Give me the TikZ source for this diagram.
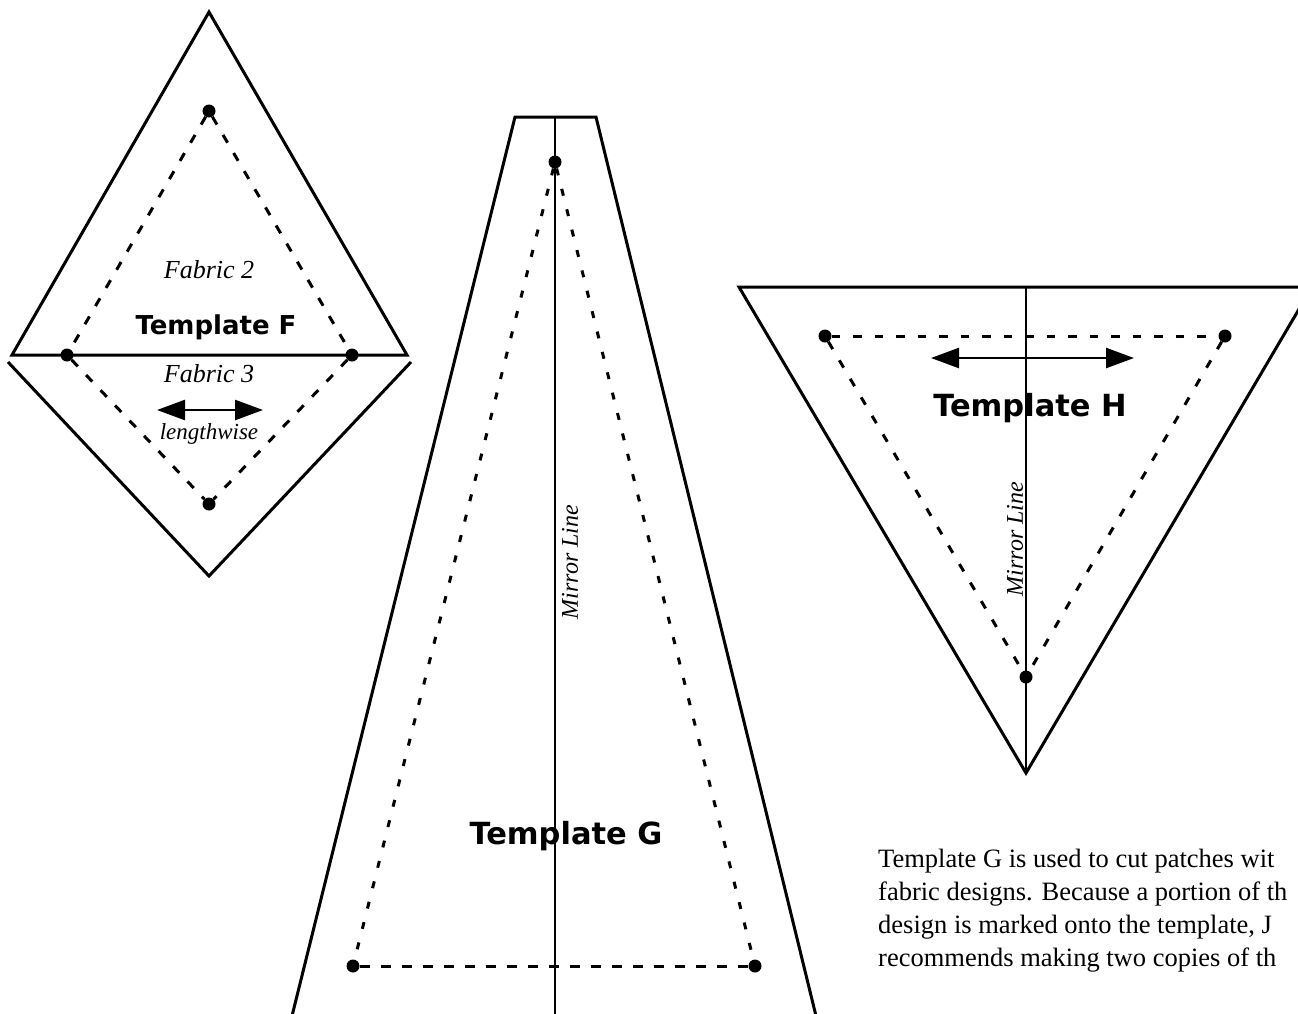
\documentclass[tikz,border=0pt]{standalone}
\usepackage{fontspec}
\setmainfont{Liberation Serif}
\newfontfamily\heavyfont{DejaVu Sans}
\usetikzlibrary{arrows.meta}
\begin{document}
\begin{tikzpicture}[x=1pt,y=-1pt,
  outline/.style={line width=3pt, line join=miter},
  seam/.style={line width=3pt, dash pattern=on 9pt off 12pt},
  dotseam/.style={line width=3pt, dash pattern=on 7pt off 14pt},
  mirror/.style={line width=1.5pt},
  dot/.style={circle, fill=black, inner sep=0pt, minimum size=13pt},
  title/.style={font=\heavyfont\bfseries\fontsize{30.5}{34}\selectfont, inner sep=0pt},
  fabric/.style={font=\itshape\fontsize{26}{30}\selectfont, inner sep=0pt},
  mirrortext/.style={font=\itshape\fontsize{24}{26}\selectfont, inner sep=0pt, rotate=90},
  grain/.style={line width=2.5pt, {Triangle[length=28pt,width=20pt]}-{Triangle[length=28pt,width=20pt]}},
]
\useasboundingbox (0,0) rectangle (1298,1013);
\begin{scope}
\clip (0,0) rectangle (1298,1013);

% ---------- Template F ----------
\coordinate (Fa) at (209,12);
\coordinate (Fl) at (12,355);
\coordinate (Fr) at (407,355);
\coordinate (Fl2) at (8,362);
\coordinate (Fr2) at (411,362);
\coordinate (Fb) at (209,576);
\draw[outline] (Fl) -- (Fa) -- (Fr) -- cycle;
\draw[outline] (Fl2) -- (Fb) -- (Fr2);
\node[dot] (fT) at (209,111) {};
\node[dot] (fL) at (67,355) {};
\node[dot] (fR) at (352,355) {};
\node[dot] (fB) at (209,504) {};
\draw[seam] (fT) -- (fL);
\draw[seam] (fT) -- (fR);
\draw[seam] (fL) -- (fB);
\draw[seam] (fR) -- (fB);
\node[fabric] (fab2) at (209,270) {Fabric 2};
\node[title, font=\heavyfont\bfseries\fontsize{26}{30}\selectfont] (tF) at (216,327) {Template F};
\node[fabric] (fab3) at (209,374) {Fabric 3};
\coordinate (fa1) at (157,410);
\coordinate (fa2) at (263,410);
\draw[grain] (fa1) -- (fa2);
\node[fabric, font=\itshape\fontsize{23}{26}\selectfont] (lw) at (209,434) {lengthwise};

% ---------- Template G ----------
\coordinate (Gbl) at (291,1020);
\coordinate (Gtl) at (515,117);
\coordinate (Gtr) at (596,117);
\coordinate (Gbr) at (817,1020);
\draw[outline] (Gbl) -- (Gtl) -- (Gtr) -- (Gbr);
\coordinate (Gm1) at (555,117);
\coordinate (Gm2) at (555,1020);
\draw[mirror] (Gm1) -- (Gm2);
\node[dot] (gT) at (555,162) {};
\node[dot] (gL) at (353,966) {};
\node[dot] (gR) at (755,966) {};
\draw[dotseam] (gT) -- (gL);
\draw[dotseam] (gT) -- (gR);
\draw[seam, dash pattern=on 10pt off 11pt] (gL) -- (gR);
\node[mirrortext] (mG) at (570,562) {Mirror Line};
\node[title] (tG) at (566,836) {Template G};

% ---------- Template H ----------
\coordinate (Htl) at (739,287);
\coordinate (Htr) at (1312,287);
\coordinate (Hb) at (1026,773);
\draw[outline] (Htl) -- (Htr) -- (Hb) -- cycle;
\coordinate (Hm1) at (1026,287);
\draw[mirror] (Hm1) -- (Hb);
\node[dot] (hL) at (825,336) {};
\node[dot] (hR) at (1225,336) {};
\node[dot] (hB) at (1026,677) {};
\draw[seam, dash pattern=on 8.5pt off 13pt] (hL) -- (hR);
\draw[seam, dash pattern=on 8.5pt off 13pt] (hL) -- (hB);
\draw[seam, dash pattern=on 8.5pt off 13pt] (hR) -- (hB);
\coordinate (ha1) at (931,358);
\coordinate (ha2) at (1134,358);
\draw[grain] (ha1) -- (ha2);
\node[title] (tH) at (1030,408) {Template H};
\node[mirrortext] (mH) at (1015,539) {Mirror Line};

% ---------- Paragraph ----------
\node[anchor=north west, inner sep=0pt, align=left,
      font=\fontsize{26.5}{33}\selectfont] (para) at (878,849)
  {Template G is used to cut patches wit\\
   fabric designs. Because a portion of th\\
   design is marked onto the template, J\\
   recommends making two copies of th};
\end{scope}
\end{tikzpicture}
\end{document}
